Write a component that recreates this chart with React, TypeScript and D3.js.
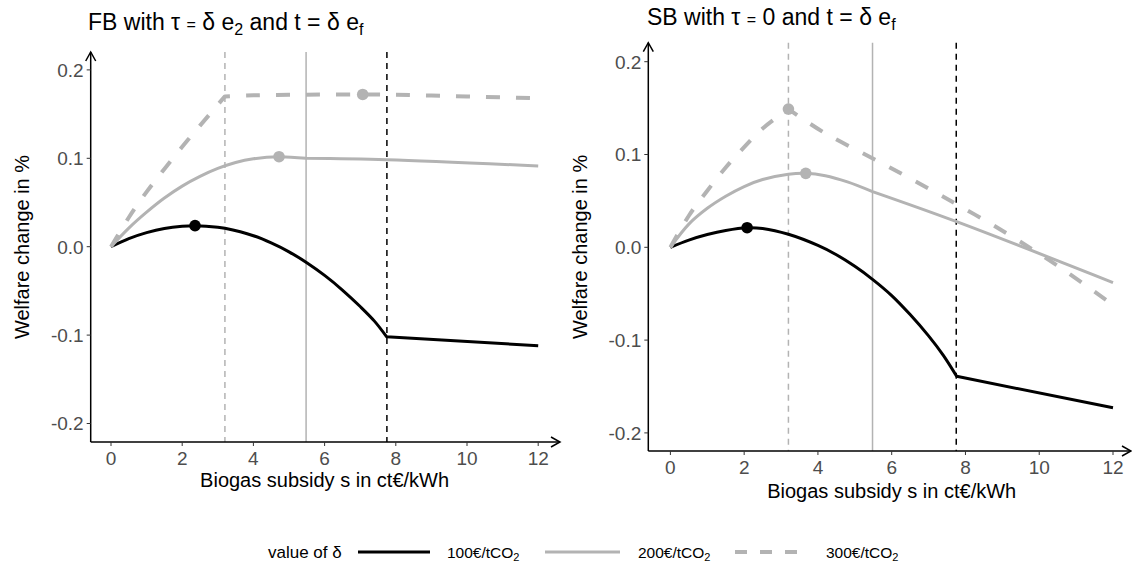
import React from "react";
import * as d3 from "d3";

// vertical reference lines (s values)
const vlineLightDashed = 3.2;
const vlineSolid = 5.48;
const vlineBlackDashed = 7.75;

const xTicks = [0, 2, 4, 6, 8, 10, 12];
const yTicks = [-0.2, -0.1, 0.0, 0.1, 0.2];

// FB panel
const fb100: [number, number][] = [
  [0, 0], [0.5, 0.0091], [1, 0.0159], [1.5, 0.0207], [2, 0.0232], [2.36, 0.0238],
  [3, 0.0221], [3.2, 0.0208], [4, 0.0124], [4.5, 0.0043], [5, -0.0058], [5.5, -0.0181],
  [6, -0.0325], [6.5, -0.049], [7, -0.0677], [7.4, -0.0842], [7.74, -0.1018], [12, -0.112],
];
const fb200: [number, number][] = [
  [0, 0], [0.5, 0.021], [1, 0.039], [1.5, 0.055], [2, 0.0685], [2.5, 0.0795], [3, 0.0885],
  [3.5, 0.0953], [4, 0.0995], [4.72, 0.1018], [5.48, 0.1], [7.75, 0.0985], [12, 0.0913],
];
const fb300: [number, number][] = [
  [0, 0], [0.5, 0.033], [1, 0.062], [1.5, 0.088], [2, 0.113], [2.5, 0.137], [3.2, 0.17],
  [4, 0.1712], [5, 0.1718], [6, 0.1722], [7.07, 0.1722], [8, 0.1718], [9, 0.171],
  [10, 0.17], [11, 0.169], [12, 0.168],
];
const fbOptima: [number, number][] = [[2.36, 0.0238], [4.72, 0.1018], [7.07, 0.1722]];

// SB panel
const sb100: [number, number][] = [
  [0, 0], [0.5, 0.0078], [1, 0.0138], [1.5, 0.0182], [2.08, 0.0211], [2.5, 0.0203],
  [3.2, 0.014], [4, 0.002], [4.5, -0.008], [5, -0.0205], [5.48, -0.0345], [6, -0.052],
  [6.5, -0.0725], [7, -0.0955], [7.4, -0.1165], [7.76, -0.139], [12, -0.173],
];
const sb200: [number, number][] = [
  [0, 0], [0.5, 0.025], [1, 0.042], [1.5, 0.055], [2, 0.0655], [2.5, 0.073],
  [3.2, 0.0787], [3.67, 0.0797], [4.2, 0.0772], [4.8, 0.0705], [5.48, 0.06], [7.76, 0.0276],
  [12, -0.038],
];
const sb300: [number, number][] = [
  [0, 0], [0.5, 0.034], [1, 0.061], [1.5, 0.086], [2, 0.108], [2.5, 0.128], [3.2, 0.149],
  [4.15, 0.124], [5.23, 0.101], [5.95, 0.086], [7.4, 0.0545], [9.12, 0.015], [10.5, -0.02],
  [12, -0.062],
];
const sbOptima: [number, number][] = [[2.08, 0.0211], [3.67, 0.0797], [3.2, 0.149]];

const BLACK = "#000000";
const GREY = "#b3b3b3";
const FONT = "'Liberation Sans', Arial, sans-serif";

// draw a curve that keeps its kinks at the given break points, as one subpath
function kinkedPath(
  data: [number, number][],
  breaks: number[],
  x: d3.ScaleLinear<number, number>,
  y: d3.ScaleLinear<number, number>
) {
  const line = d3.line<[number, number]>()
    .x(d => x(d[0]))
    .y(d => y(d[1]))
    .curve(d3.curveCatmullRom.alpha(0.5));
  const segs: [number, number][][] = [];
  let cur: [number, number][] = [];
  data.forEach(d => {
    cur.push(d);
    if (breaks.includes(d[0]) && cur.length > 1) {
      segs.push(cur);
      cur = [d];
    }
  });
  if (cur.length > 1) segs.push(cur);
  return segs.map((s, i) => {
    const p = line(s) || "";
    return i === 0 ? p : "L" + p.slice(1);
  }).join("");
}

type PanelProps = {
  title: React.ReactNode;
  titleX: number;
  titleY: number;
  xRange: [number, number];
  yRange: [number, number];
  axisX: number;
  axisY: number;
  arrowTop: number;
  arrowRight: number;
  series: { data: [number, number][]; breaks: number[]; color: string; dash?: string; width: number }[];
  optima: [number, number][];
  optColors: string[];
  yTitleX: number;
  xTitleY: number;
};

const Panel = (p: PanelProps) => {
  const x = d3.scaleLinear().domain([0, 12]).range(p.xRange);
  const y = d3.scaleLinear().domain([-0.2, 0.2]).range(p.yRange);
  const yMid = (p.arrowTop + p.axisY) / 2;
  return (
    <g fontFamily={FONT}>
      <text x={p.titleX} y={p.titleY} fontSize={23} fill="#000">{p.title}</text>
      {/* reference lines */}
      <line x1={x(vlineLightDashed)} x2={x(vlineLightDashed)} y1={p.arrowTop} y2={p.axisY}
        stroke={GREY} strokeWidth={1.5} strokeDasharray="6 5" />
      <line x1={x(vlineSolid)} x2={x(vlineSolid)} y1={p.arrowTop} y2={p.axisY}
        stroke={GREY} strokeWidth={1.5} />
      <line x1={x(vlineBlackDashed)} x2={x(vlineBlackDashed)} y1={p.arrowTop} y2={p.axisY}
        stroke={BLACK} strokeWidth={1.5} strokeDasharray="6 5" />
      {p.series.map((s, i) => (
        <path key={i} d={kinkedPath(s.data, s.breaks, x, y)} fill="none" stroke={s.color}
          strokeWidth={s.width} strokeDasharray={s.dash} strokeLinejoin="round" />
      ))}
      {p.optima.map((d, i) => (
        <circle key={i} cx={x(d[0])} cy={y(d[1])} r={5.8} fill={p.optColors[i]} />
      ))}
      {/* axes */}
      <line x1={p.axisX} x2={p.axisX} y1={p.arrowTop} y2={p.axisY} stroke="#000" strokeWidth={1.5} />
      <line x1={p.axisX} x2={p.arrowRight} y1={p.axisY} y2={p.axisY} stroke="#000" strokeWidth={1.5} />
      <path d={`M${p.axisX - 5},${p.arrowTop + 9}L${p.axisX},${p.arrowTop}L${p.axisX + 5},${p.arrowTop + 9}`}
        fill="none" stroke="#000" strokeWidth={1.5} />
      <path d={`M${p.arrowRight - 9},${p.axisY - 5}L${p.arrowRight},${p.axisY}L${p.arrowRight - 9},${p.axisY + 5}`}
        fill="none" stroke="#000" strokeWidth={1.5} />
      {yTicks.map(t => (
        <g key={t}>
          <line x1={p.axisX - 4} x2={p.axisX} y1={y(t)} y2={y(t)} stroke="#333" strokeWidth={1} />
          <text x={p.axisX - 7} y={y(t)} dy="0.36em" textAnchor="end" fontSize={19} fill="#4d4d4d">
            {t.toFixed(1)}
          </text>
        </g>
      ))}
      {xTicks.map(t => (
        <g key={t}>
          <line x1={x(t)} x2={x(t)} y1={p.axisY} y2={p.axisY + 4} stroke="#333" strokeWidth={1} />
          <text x={x(t)} y={p.axisY + 23} textAnchor="middle" fontSize={19} fill="#4d4d4d">{t}</text>
        </g>
      ))}
      <text x={(p.xRange[0] + p.xRange[1]) / 2} y={p.xTitleY} textAnchor="middle" fontSize={20} fill="#000">
        Biogas subsidy s in ct€/kWh
      </text>
      <text transform={`translate(${p.yTitleX},${yMid}) rotate(-90)`} textAnchor="middle" fontSize={20} fill="#000">
        Welfare change in %
      </text>
    </g>
  );
};

const sub = (t: string) => <tspan fontSize={16} dy={5}>{t}</tspan>;

const LegendLabel = ({ x, text }: { x: number; text: string }) => (
  <text x={x} y={558} fontSize={15.5} fill="#000">
    {text}<tspan fontSize={11} dy={3}>2</tspan>
  </text>
);

export default function App() {
  return (
    <svg width={1132} height={565} style={{ display: "block", position: "absolute", left: 0, top: 0 }}>
      <rect width={1132} height={565} fill="#fff" />
      <Panel
        title={<>FB with τ <tspan fontSize={16}>=</tspan> δ e{sub("2")}<tspan dy={-5}> and t = δ e</tspan>{sub("f")}</>}
        titleX={88} titleY={30}
        xRange={[111, 538.2]} yRange={[423.5, 69.9]}
        axisX={90.7} axisY={442} arrowTop={52} arrowRight={560}
        series={[
          { data: fb100, breaks: [7.74], color: BLACK, width: 3 },
          { data: fb200, breaks: [5.48], color: GREY, width: 3 },
          { data: fb300, breaks: [3.2], color: GREY, width: 4, dash: "14 16" },
        ]}
        optima={fbOptima} optColors={[BLACK, GREY, GREY]}
        yTitleX={29} xTitleY={487}
      />
      <Panel
        title={<>SB with τ <tspan fontSize={16}>=</tspan> 0 and t = δ e{sub("f")}</>}
        titleX={647} titleY={25}
        xRange={[670.4, 1113]} yRange={[432.9, 61.7]}
        axisX={648.3} axisY={451} arrowTop={42.7} arrowRight={1131}
        series={[
          { data: sb100, breaks: [7.76], color: BLACK, width: 3 },
          { data: sb200, breaks: [5.48], color: GREY, width: 3 },
          { data: sb300, breaks: [3.2], color: GREY, width: 4, dash: "14 16" },
        ]}
        optima={sbOptima} optColors={[BLACK, GREY, GREY]}
        yTitleX={587} xTitleY={498}
      />
      {/* legend */}
      <g fontFamily={FONT}>
        <text x={268} y={558} fontSize={17} fill="#000">value of δ</text>
        <line x1={358} x2={430} y1={552} y2={552} stroke={BLACK} strokeWidth={3} />
        <LegendLabel x={447} text="100€/tCO" />
        <line x1={545} x2={620} y1={552} y2={552} stroke={GREY} strokeWidth={3} />
        <LegendLabel x={638} text="200€/tCO" />
        <line x1={735} x2={810} y1={552} y2={552} stroke={GREY} strokeWidth={4} strokeDasharray="12 13" />
        <LegendLabel x={826} text="300€/tCO" />
      </g>
    </svg>
  );
}
